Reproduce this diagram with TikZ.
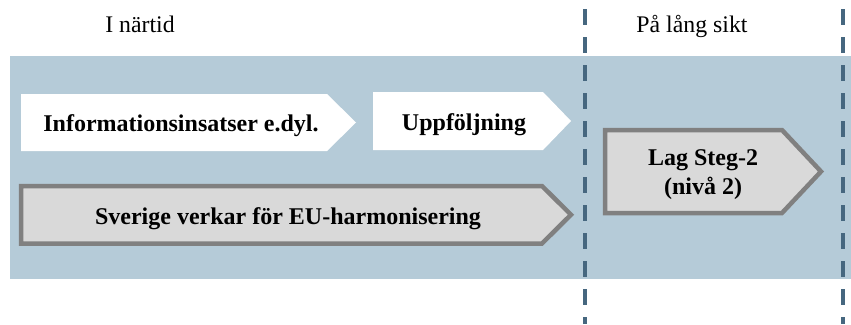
\documentclass[tikz,border=0pt]{standalone}
\usepackage{fontspec}
\setmainfont{Liberation Serif}
\definecolor{bandblue}{HTML}{B5CBD8}
\definecolor{dashblue}{HTML}{46677F}
\definecolor{boxgray}{HTML}{D9D9D9}
\definecolor{edgegray}{HTML}{808080}
\tikzset{
  hdr/.style={anchor=base, font=\fontsize{23.8}{27}\selectfont, inner sep=0pt},
  lbl/.style={anchor=base, font=\fontsize{24}{27}\selectfont\bfseries, inner sep=0pt, align=center},
  whitearrow/.style={fill=white, draw=none},
  grayarrow/.style={fill=boxgray, draw=edgegray, line width=4.5pt, line join=miter},
  divider/.style={draw=dashblue, line width=4pt, dash pattern=on 16pt off 12pt}
}
\begin{document}
\begin{tikzpicture}[x=1pt, y=-1pt]
\useasboundingbox (0,0) rectangle (851,324);
% band
\fill[bandblue] (10,56) rectangle (851,279);
% dividers
\coordinate (d1top) at (585,9.3);
\coordinate (d1bot) at (585,324);
\coordinate (d2top) at (842.5,9.3);
\coordinate (d2bot) at (842.5,324);
\draw[divider] (d1top) -- (d1bot);
\draw[divider] (d2top) -- (d2bot);
% headers
\node[hdr] (near) at (140,32) {I närtid};
\node[hdr] (long) at (692,32) {På lång sikt};
% white arrows
\fill[whitearrow] (21,94) -- (327,94) -- (356,122.5) -- (327,151) -- (21,151) -- cycle;
\fill[whitearrow] (373,92) -- (543,92) -- (571,121) -- (543,150) -- (373,150) -- cycle;
% gray arrows
\draw[grayarrow] (21,186) -- (542,186) -- (571,214.7) -- (542,243.5) -- (21,243.5) -- cycle;
\draw[grayarrow] (605,130) -- (782,130) -- (821,171.5) -- (782,213) -- (605,213) -- cycle;
% labels
\node[lbl] (info) at (181,131) {Informationsinsatser e.dyl.};
\node[lbl] (upp) at (464,130) {Uppföljning};
\node[lbl] (sve) at (288,224) {Sverige verkar för EU-harmonisering};
\node[lbl] (lag1) at (703,165) {Lag Steg-2};
\node[lbl] (lag2) at (703,194) {(nivå 2)};
\end{tikzpicture}
\end{document}
